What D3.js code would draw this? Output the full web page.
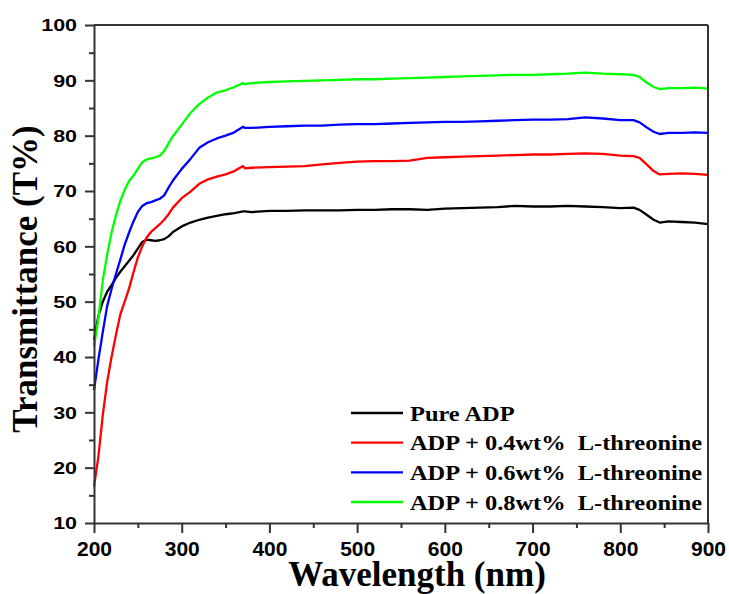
<!DOCTYPE html>
<html>
<head>
<meta charset="utf-8">
<script src="https://cdn.jsdelivr.net/npm/d3@7"></script>
<style>
  html, body { margin: 0; padding: 0; background: #fff; }
  svg { display: block; }
</style>
</head>
<body>
<svg id="chart" width="729" height="594"></svg>
<script>
const wavelengths = [200,205,210,215,220,225,230,235,240,245,250,255,260,265,270,275,280,285,290,300,310,320,330,340,350,360,370,372,380,400,420,440,460,480,500,520,540,560,580,600,620,640,660,680,700,720,740,760,780,800,815,822,830,838,845,855,870,885,900];

const pureADP = [43.1,47.4,50.0,51.8,53.0,54.3,55.4,56.4,57.4,58.4,59.6,60.8,61.2,61.1,61.0,61.1,61.3,61.8,62.6,63.6,64.3,64.8,65.2,65.5,65.8,66.0,66.3,66.3,66.2,66.4,66.4,66.5,66.5,66.5,66.6,66.6,66.7,66.7,66.6,66.8,66.9,67.0,67.1,67.3,67.2,67.2,67.3,67.2,67.1,66.9,67.0,66.6,65.7,64.8,64.3,64.5,64.4,64.3,64.0];

const adp04 = [16.6,22.0,29.5,35.5,40.0,44.0,47.7,50.0,52.4,55.3,58.0,60.0,61.6,62.6,63.3,64.0,64.8,65.8,67.0,68.7,69.9,71.3,72.1,72.6,73.0,73.6,74.5,74.1,74.2,74.3,74.4,74.5,74.8,75.1,75.3,75.4,75.4,75.5,76.0,76.1,76.2,76.3,76.4,76.5,76.6,76.6,76.7,76.8,76.7,76.4,76.3,76.0,74.8,73.6,73.0,73.1,73.2,73.1,72.9];

const adp06 = [34.0,39.5,44.5,49.2,52.3,55.0,57.6,60.3,62.5,64.5,66.2,67.3,67.8,68.0,68.3,68.6,69.2,70.6,71.9,74.0,75.8,77.8,78.8,79.5,80.0,80.6,81.6,81.4,81.4,81.6,81.7,81.8,81.8,82.0,82.1,82.1,82.2,82.3,82.4,82.5,82.5,82.6,82.7,82.8,82.9,82.9,83.0,83.3,83.1,82.8,82.8,82.4,81.5,80.7,80.3,80.5,80.5,80.6,80.5];

const adp08 = [41.9,47.0,53.8,58.5,62.5,65.6,68.2,70.2,71.8,72.8,74.0,75.2,75.7,75.9,76.1,76.4,77.2,78.6,79.9,82.0,84.1,85.7,86.9,87.8,88.2,88.8,89.5,89.3,89.5,89.7,89.8,89.9,90.0,90.1,90.2,90.2,90.3,90.4,90.5,90.6,90.7,90.8,90.9,91.0,91.0,91.1,91.2,91.4,91.2,91.1,91.0,90.6,89.6,88.8,88.4,88.6,88.6,88.7,88.5];

const seriesNames = ["Pure ADP", "ADP + 0.4wt%  L-threonine", "ADP + 0.6wt%  L-threonine", "ADP + 0.8wt%  L-threonine"];
const seriesColors = ["#000000", "#ff0000", "#0000ff", "#00ff00"];
const seriesValues = [pureADP, adp04, adp06, adp08];

const xTicks = [200,300,400,500,600,700,800,900];
const xMinorTicks = [250,350,450,550,650,750,850];
const yTicks = [10,20,30,40,50,60,70,80,90,100];
const yMinorTicks = [15,25,35,45,55,65,75,85,95];

const xTitle = "Wavelength (nm)";
const yTitle = "Transmittance (T%)";

const margin = {left: 94, top: 25, right: 21, bottom: 71};
const W = 729, H = 594;
const pw = W - margin.left - margin.right;
const ph = H - margin.top - margin.bottom;

const svg = d3.select("#chart");
const g = svg.append("g").attr("transform", `translate(${margin.left},${margin.top})`);

const x = d3.scaleLinear().domain([200, 900]).range([0, pw]);
const y = d3.scaleLinear().domain([10, 100]).range([ph, 0]);

const axisColor = "#333";

// lines
const line = d3.line().x(d => x(d[0])).y(d => y(d[1]));
seriesValues.forEach((vals, i) => {
  const pts = wavelengths.map((w, j) => [w, vals[j]]);
  g.append("path")
    .datum(pts)
    .attr("fill", "none")
    .attr("stroke", seriesColors[i])
    .attr("stroke-width", 2.3)
    .attr("stroke-linejoin", "round")
    .attr("d", line);
});

// frame top and right
g.append("line").attr("x1", 0).attr("x2", pw).attr("y1", 0).attr("y2", 0)
  .attr("stroke", axisColor).attr("stroke-width", 2);
g.append("line").attr("x1", pw).attr("x2", pw).attr("y1", 0).attr("y2", ph)
  .attr("stroke", axisColor).attr("stroke-width", 2);

// minor ticks
g.append("g").attr("transform", `translate(0,${ph})`)
  .call(d3.axisBottom(x).tickValues(xMinorTicks).tickSize(5).tickFormat(""))
  .call(s => s.select(".domain").remove())
  .call(s => s.selectAll("line").attr("stroke", axisColor).attr("stroke-width", 2));
g.append("g")
  .call(d3.axisLeft(y).tickValues(yMinorTicks).tickSize(5).tickFormat(""))
  .call(s => s.select(".domain").remove())
  .call(s => s.selectAll("line").attr("stroke", axisColor).attr("stroke-width", 2));

// x axis
const xa = g.append("g").attr("transform", `translate(0,${ph})`)
  .call(d3.axisBottom(x).tickValues(xTicks).tickSize(10).tickSizeOuter(0).tickPadding(8).tickFormat(d3.format("d")));
xa.select(".domain").attr("stroke", axisColor).attr("stroke-width", 2);
xa.selectAll(".tick line").attr("stroke", axisColor).attr("stroke-width", 2);
xa.selectAll("text")
  .attr("fill", "#000")
  .style("font-family", "'Liberation Sans', Arial, sans-serif")
  .style("font-weight", "bold")
  .style("font-size", "21px");

// y axis
const ySx = 1.3;
const ya = g.append("g")
  .call(d3.axisLeft(y).tickValues(yTicks).tickSize(9).tickSizeOuter(0).tickFormat(d3.format("d")));
ya.select(".domain").attr("stroke", axisColor).attr("stroke-width", 2);
ya.selectAll(".tick line").attr("stroke", axisColor).attr("stroke-width", 2);
ya.selectAll("text")
  .attr("fill", "#000")
  .attr("x", -17 / ySx)
  .attr("dy", "0.36em")
  .attr("transform", `scale(${ySx},1)`)
  .style("font-family", "'Liberation Sans', Arial, sans-serif")
  .style("font-weight", "bold")
  .style("font-size", "16.5px");

// titles
svg.append("text")
  .attr("x", 417).attr("y", 586)
  .attr("text-anchor", "middle")
  .style("font-family", "'Liberation Serif', 'Times New Roman', serif")
  .style("font-weight", "bold")
  .style("font-size", "35px")
  .text(xTitle);

svg.append("text")
  .attr("transform", "translate(37,279) rotate(-90)")
  .attr("text-anchor", "middle")
  .style("font-family", "'Liberation Serif', 'Times New Roman', serif")
  .style("font-weight", "bold")
  .style("font-size", "35px")
  .text(yTitle);

// legend
const lgSx = 1.11;
const legend = svg.append("g");
const legendY = d3.scalePoint().domain(d3.range(seriesNames.length)).range([413, 502]);
seriesNames.forEach((name, i) => {
  const yy = legendY(i);
  legend.append("line")
    .attr("x1", 351).attr("x2", 403).attr("y1", yy).attr("y2", yy)
    .attr("stroke", seriesColors[i]).attr("stroke-width", 2.3);
  legend.append("text")
    .attr("x", 410 / lgSx).attr("y", yy).attr("dy", "0.35em")
    .attr("transform", `scale(${lgSx},1)`)
    .attr("xml:space", "preserve")
    .style("white-space", "pre")
    .style("font-family", "'Liberation Serif', 'Times New Roman', serif")
    .style("font-weight", "bold")
    .style("font-size", "22px")
    .text(name);
});
</script>
</body>
</html>
